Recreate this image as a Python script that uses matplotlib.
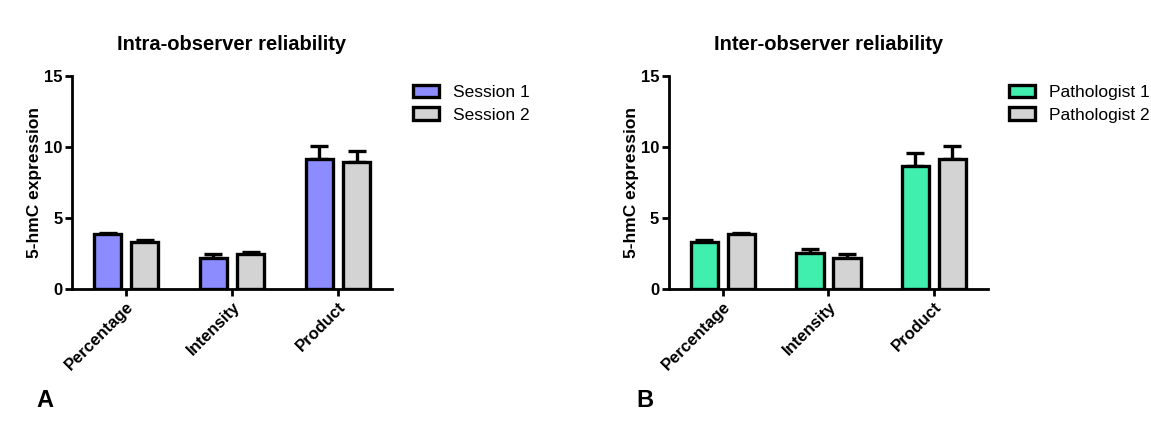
import numpy as np
import matplotlib.pyplot as plt
from matplotlib.patches import Patch

plt.rcParams['font.family'] = ['Liberation Sans', 'DejaVu Sans']

categories = ['Percentage', 'Intensity', 'Product']

# Panel A - intra-observer
session1_mean = [3.85, 2.2, 9.15]
session1_err = [0.12, 0.25, 0.92]
session2_mean = [3.33, 2.44, 8.94]
session2_err = [0.15, 0.16, 0.8]

# Panel B - inter-observer
path1_mean = [3.33, 2.5, 8.64]
path1_err = [0.15, 0.32, 0.95]
path2_mean = [3.87, 2.2, 9.15]
path2_err = [0.1, 0.25, 0.92]

blue = '#8c8cff'
green = '#40eeae'
gray = '#d3d3d3'

fig = plt.figure(figsize=(11.51, 4.26), dpi=100)
fig.patch.set_facecolor('white')

ax1 = fig.add_axes([0.0626, 0.3216, 0.278, 0.5])
ax2 = fig.add_axes([0.5812, 0.3216, 0.277, 0.5])


def draw_panel(ax, m1, e1, m2, e2, c1, labels, title):
    x = np.arange(len(categories))
    w = 0.26
    off = 0.175
    for xs, m, e, c in [(x - off, m1, e1, c1), (x + off, m2, e2, gray)]:
        ax.bar(xs, m, width=w, color=c, edgecolor='black', linewidth=2.4, zorder=3)
        ax.errorbar(xs, m, yerr=[np.zeros(len(m)), e], fmt='none', ecolor='black',
                    elinewidth=2.4, capsize=6.5, capthick=2.4, zorder=2)
    ax.set_xlim(-0.51, 2.51)
    ax.set_ylim(0, 15)
    ax.set_yticks([0, 5, 10, 15])
    ax.set_xticks(x)
    ax.set_xticklabels(categories, rotation=45, ha='right', rotation_mode='anchor',
                       fontweight='bold', fontsize=12)
    for lab in ax.get_yticklabels():
        lab.set_fontweight('bold')
        lab.set_fontsize(12)
    ax.spines['top'].set_visible(False)
    ax.spines['right'].set_visible(False)
    ax.spines['left'].set_linewidth(2)
    ax.spines['bottom'].set_linewidth(2)
    ax.tick_params(width=2, length=5, pad=2)
    ax.set_ylabel('5-hmC expression', fontweight='bold', fontsize=12.5, labelpad=1)
    ax.set_title(title, fontweight='bold', fontsize=14.5, pad=19)
    handles = [Patch(facecolor=c1, edgecolor='black', linewidth=2.4),
               Patch(facecolor=gray, edgecolor='black', linewidth=2.4)]
    ax.legend(handles, labels, loc='upper left', bbox_to_anchor=(1.066, 0.96),
              frameon=False, fontsize=12.5, handlelength=1.5, handleheight=0.7,
              labelspacing=0.45, handletextpad=0.8, borderpad=0, borderaxespad=0)


draw_panel(ax1, session1_mean, session1_err, session2_mean, session2_err, blue,
           ['Session 1', 'Session 2'], 'Intra-observer reliability')
draw_panel(ax2, path1_mean, path1_err, path2_mean, path2_err, green,
           ['Pathologist 1', 'Pathologist 2'], 'Inter-observer reliability')

fig.text(0.032, 0.045, 'A', fontsize=17, fontweight='bold')
fig.text(0.553, 0.045, 'B', fontsize=17, fontweight='bold')

fig.savefig('out.png', dpi=100)
